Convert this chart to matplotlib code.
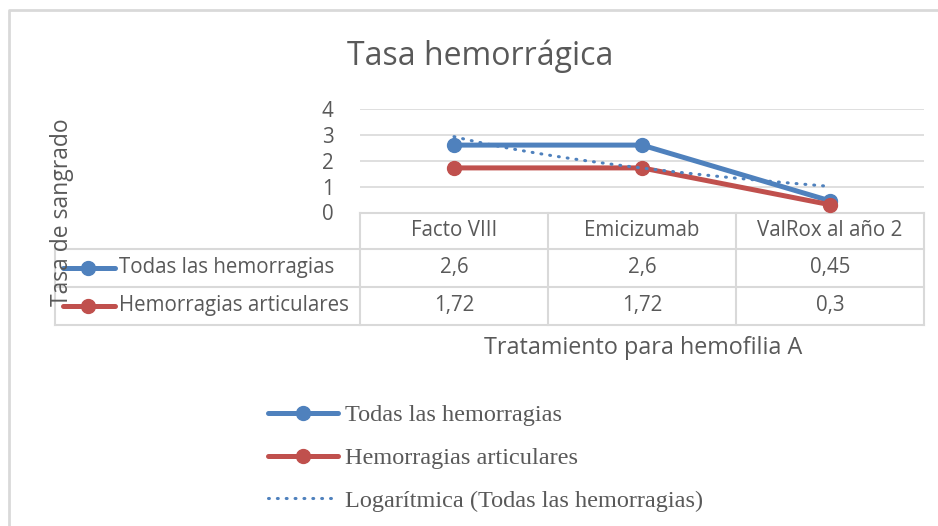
import numpy as np
import matplotlib
matplotlib.use("Agg")
import matplotlib.pyplot as plt
from matplotlib.lines import Line2D

categories = ["Facto VIII", "Emicizumab", "ValRox al año 2"]
todas = [2.6, 2.6, 0.45]
articulares = [1.72, 1.72, 0.3]
todas_txt = ["2,6", "2,6", "0,45"]
articulares_txt = ["1,72", "1,72", "0,3"]
series_names = ["Todas las hemorragias", "Hemorragias articulares"]
trend_name = "Logarítmica (Todas las hemorragias)"

blue = "#4F81BD"
red = "#C0504D"
grey_txt = "#595959"
grid_c = "#D9D9D9"
sans = "Open Sans"
serif = "Liberation Serif"
fs = 14.8

W, H = 938, 526
fig = plt.figure(figsize=(W / 100, H / 100), dpi=100)

# overlay in pixel coords for the border and data table
ov = fig.add_axes([0, 0, 1, 1], zorder=0)
ov.set_xlim(0, W)
ov.set_ylim(H, 0)
ov.axis("off")

# chart border (cropped on right/bottom)
ov.plot([9, 9, W], [H, 10, 10], color=grid_c, lw=2, solid_capstyle="butt")

# main plot area: x 360..924, y 0..4 -> 212.5..108.8 px
x0, x1 = 360, 924
y0, y4 = 212.5, 108.8
ax = fig.add_axes([x0 / W, 1 - y0 / H, (x1 - x0) / W, (y0 - y4) / H], zorder=2)
ax.patch.set_alpha(0)
x = np.arange(1, len(categories) + 1)
ax.set_xlim(0.5, len(categories) + 0.5)
ax.set_ylim(0, 4)
ax.set_yticks([0, 1, 2, 3, 4])
ax.set_xticks([])
ax.tick_params(axis="y", length=0, pad=19, labelsize=fs, labelcolor=grey_txt)
for lab in ax.get_yticklabels():
    lab.set_fontfamily(sans)
ax.grid(axis="y", color=grid_c, lw=1.2)
ax.set_axisbelow(True)
for s in ax.spines.values():
    s.set_visible(False)

l1, = ax.plot(x, todas, color=blue, lw=3.6, marker="o", ms=10, clip_on=False,
              solid_capstyle="round", label=series_names[0], zorder=3)
l2, = ax.plot(x, articulares, color=red, lw=3.6, marker="o", ms=10, clip_on=False,
              solid_capstyle="round", label=series_names[1], zorder=4)

# logarithmic trendline fitted on the first series
a, b = np.polyfit(np.log(x), todas, 1)
xt = np.linspace(x[0], x[-1], 60)
l3, = ax.plot(xt, a * np.log(xt) + b, color=blue, lw=2.2, ls=(0, (0.3, 2.6)),
              dash_capstyle="round", label=trend_name, zorder=5, clip_on=False)

# data table
col_w = (x1 - x0) / len(categories)
rows_y = [212.5, 249, 287, 325]
tl = 55
tkw = dict(color=grid_c, lw=1.5, zorder=1)
ov.plot([x0, x1], [rows_y[0], rows_y[0]], **tkw)
for yy in rows_y[1:]:
    ov.plot([tl, x1], [yy, yy], **tkw)
ov.plot([tl, tl], [rows_y[1], rows_y[3]], **tkw)
for i in range(len(categories) + 1):
    xx = x0 + i * col_w
    ov.plot([xx, xx], [rows_y[0], rows_y[3]], **tkw)

for i, cat in enumerate(categories):
    cx = x0 + (i + 0.5) * col_w
    ov.text(cx, (rows_y[0] + rows_y[1]) / 2, cat, ha="center", va="center",
            fontsize=fs, color=grey_txt, fontfamily=sans)
    ov.text(cx, (rows_y[1] + rows_y[2]) / 2, todas_txt[i], ha="center", va="center",
            fontsize=fs, color=grey_txt, fontfamily=sans)
    ov.text(cx, (rows_y[2] + rows_y[3]) / 2, articulares_txt[i], ha="center", va="center",
            fontsize=fs, color=grey_txt, fontfamily=sans)

for name, col, r in [(series_names[0], blue, 1), (series_names[1], red, 2)]:
    cy = (rows_y[r] + rows_y[r + 1]) / 2
    ov.add_line(Line2D([63, 115], [cy, cy], color=col, lw=3.6, solid_capstyle="round"))
    ov.plot([88], [cy], marker="o", ms=10, color=col)
    ov.text(119, cy, name, ha="left", va="center", fontsize=fs,
            color=grey_txt, fontfamily=sans)

# titles
fig.text(480 / W, 1 - 56 / H, "Tasa hemorrágica", ha="center", va="center",
         fontsize=23, color=grey_txt, fontfamily=sans)
fig.text(643 / W, 1 - 348 / H, "Tratamiento para hemofilia A", ha="center", va="center",
         fontsize=16.8, color=grey_txt, fontfamily=sans)
fig.text(62 / W, 1 - 212 / H, "Tasa de sangrado", ha="center", va="center",
         rotation=90, fontsize=16.5, color=grey_txt, fontfamily=sans, zorder=3)

# legend
leg = fig.legend(handles=[l1, l2, l3], loc="center left",
                 bbox_to_anchor=(268 / W, 1 - 458 / H), frameon=False,
                 prop={"family": serif, "size": 17.5}, labelcolor=grey_txt,
                 handlelength=2.9, handletextpad=0.25, labelspacing=0.85,
                 borderpad=0, borderaxespad=0)

fig.savefig("out.png", dpi=100)
